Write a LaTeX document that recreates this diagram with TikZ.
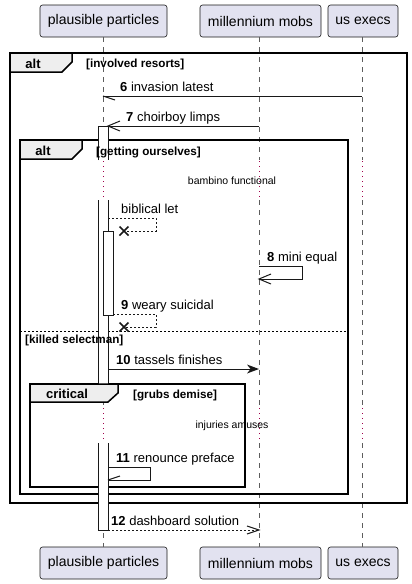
\documentclass[tikz,border=0pt]{standalone}
\usepackage{fontspec}
\setmainfont{Liberation Sans}
\usetikzlibrary{calc}
\definecolor{partfill}{HTML}{E2E2F0}
\definecolor{tabfill}{HTML}{EEEEEE}
\definecolor{ink}{HTML}{181818}
\definecolor{delaydot}{HTML}{A0004A}
\tikzset{
  part/.style={draw=ink, line width=0.6pt, fill=partfill, rounded corners=2.5pt, inner sep=0pt,
    font=\fontsize{14}{16}\selectfont, text=black},
  life/.style={draw=ink!70, line width=0.6pt, dash pattern=on 5pt off 5pt},
  delayline/.style={draw=delaydot, line width=1pt, dash pattern=on 1pt off 4pt},
  frameline/.style={draw=black, line width=1.5pt},
  tabshape/.style={draw=black, line width=1.5pt, fill=tabfill},
  barline/.style={draw=ink, line width=1pt},
  msg/.style={draw=ink, line width=1pt},
  retmsg/.style={draw=ink, line width=1pt, dash pattern=on 2pt off 2pt},
  msgtext/.style={anchor=base west, inner sep=0pt, font=\fontsize{13}{15}\selectfont},
  guardtext/.style={anchor=base west, inner sep=0pt, font=\bfseries\fontsize{11.7}{13}\selectfont},
  tabtext/.style={anchor=base, inner sep=0pt, font=\bfseries\fontsize{13}{15}\selectfont},
  delaytext/.style={anchor=base, inner sep=0pt, font=\fontsize{10.5}{12}\selectfont},
  crossmark/.style={draw=ink, line width=1.6pt}
}
\begin{document}
\begin{tikzpicture}[x=1pt,y=-1pt]
\useasboundingbox (0,0) rectangle (412,584);

% participants
\node[part, minimum width=127pt, minimum height=32pt] (pT) at (103.5,21) {plausible particles};
\node[part, minimum width=121pt, minimum height=32pt] (mT) at (260.5,21) {millennium mobs};
\node[part, minimum width=70pt, minimum height=32pt] (uT) at (363,21) {us execs};
\node[part, minimum width=127pt, minimum height=32pt] (pB) at (103.5,563) {plausible particles};
\node[part, minimum width=121pt, minimum height=32pt] (mB) at (260.5,563) {millennium mobs};
\node[part, minimum width=70pt, minimum height=32pt] (uB) at (363,563) {us execs};

% lifelines
\foreach \x in {103,259,362}{
  \draw[life] (\x,37) -- (\x,160);
  \draw[delayline] (\x,161) -- (\x,200);
  \draw[life] (\x,200) -- (\x,406);
  \draw[delayline] (\x,408) -- (\x,443);
  \draw[life] (\x,443) -- (\x,547);
}

% frames
\draw[frameline] (10,53) rectangle (407,503);
\draw[frameline] (20,140) rectangle (348,494);
\draw[frameline] (30,384) rectangle (245,487);
\draw[draw=black, line width=0.8pt, dash pattern=on 2pt off 2pt] (20,331) -- (348,331);

% activation bars
\fill[white] (98,126) rectangle (108,160);
\draw[barline] (98,160) -- (98,126) -- (108,126) -- (108,160);
\fill[white] (98,200) rectangle (108,384);
\draw[barline] (98,200) -- (98,384) (108,200) -- (108,384);
\fill[white] (98,443) rectangle (108,530);
\draw[barline] (98,443) -- (98,530) -- (108,530) -- (108,443);
\draw[barline, fill=white] (103,231) rectangle (113,315);

% tabs
\draw[tabshape] (10,53) -- (72,53) -- (72,62) -- (62,72) -- (10,72) -- cycle;
\node[tabtext] (tabA) at (33,68) {alt};
\node[guardtext] (gA) at (86,67) {[involved resorts]};
\draw[tabshape] (20,140) -- (82,140) -- (82,149) -- (72,159) -- (20,159) -- cycle;
\node[tabtext] (tabB) at (43,155) {alt};
\node[guardtext] (gB) at (96,155) {[getting ourselves]};
\node[guardtext] (gC) at (25,343) {[killed selectman]};
\draw[tabshape] (30,384) -- (118,384) -- (118,393) -- (108,402) -- (30,402) -- cycle;
\node[tabtext] (tabC) at (67,398) {critical};
\node[guardtext] (gD) at (133,398) {[grubs demise]};

% delays
\node[delaytext] (d1) at (232,184) {bambino functional};
\node[delaytext] (d2) at (232,428) {injuries amuses};

% message 6
\coordinate (m6s) at (362,96); \coordinate (m6e) at (103,96);
\draw[msg] (m6s) -- (m6e);
\draw[msg] (m6e) -- ++(12,4);
\node[msgtext] (t6) at (120,91) {\textbf{6} invasion latest};

% message 7
\coordinate (m7s) at (259,126); \coordinate (m7e) at (108,126);
\draw[msg] (m7s) -- (m7e);
\draw[msg] ($(m7e)+(12,-5)$) -- (m7e) -- ++(12,5);
\node[msgtext] (t7) at (126,121) {\textbf{7} choirboy limps};

% biblical let
\coordinate (bl1) at (108,218); \coordinate (bl2) at (156,218);
\coordinate (bl3) at (156,231); \coordinate (bl4) at (124,231);
\draw[retmsg] (bl1) -- (bl2) -- (bl3) -- (bl4);
\draw[crossmark] ($(bl4)+(-4.5,-4.5)$) -- ($(bl4)+(4.5,4.5)$) ($(bl4)+(-4.5,4.5)$) -- ($(bl4)+(4.5,-4.5)$);
\node[msgtext] (tbl) at (121,213) {biblical let};

% message 8
\coordinate (m8a) at (259,266); \coordinate (m8b) at (302,266);
\coordinate (m8c) at (302,279); \coordinate (m8d) at (259,279);
\draw[msg] (m8a) -- (m8b) -- (m8c) -- (m8d);
\draw[msg] ($(m8d)+(12,-5)$) -- (m8d) -- ++(12,5);
\node[msgtext] (t8) at (267,261) {\textbf{8} mini equal};

% message 9
\coordinate (m9a) at (113,314); \coordinate (m9b) at (156,314);
\coordinate (m9c) at (156,327); \coordinate (m9d) at (124,327);
\draw[retmsg] (m9a) -- (m9b) -- (m9c) -- (m9d);
\draw[crossmark] ($(m9d)+(-4.5,-4.5)$) -- ($(m9d)+(4.5,4.5)$) ($(m9d)+(-4.5,4.5)$) -- ($(m9d)+(4.5,-4.5)$);
\node[msgtext] (t9) at (121,309) {\textbf{9} weary suicidal};

% message 10
\coordinate (m10s) at (108,369); \coordinate (m10e) at (259,369);
\draw[msg] (m10s) -- ($(m10e)+(-6,0)$);
\fill[ink] (m10e) -- ++(-12,-4.5) -- ++(3.5,4.5) -- ++(-3.5,4.5) -- cycle;
\node[msgtext] (t10) at (116,364) {\textbf{10} tassels finishes};

% message 11
\coordinate (m11a) at (108,467); \coordinate (m11b) at (150,467);
\coordinate (m11c) at (150,480); \coordinate (m11d) at (108,480);
\draw[msg] (m11a) -- (m11b) -- (m11c) -- (m11d);
\draw[msg] (m11d) -- ++(12,-4);
\node[msgtext] (t11) at (116,462) {\textbf{11} renounce preface};

% message 12
\coordinate (m12s) at (108,530); \coordinate (m12e) at (259,530);
\draw[retmsg] (m12s) -- (m12e);
\draw[msg] ($(m12e)+(-12,-4)$) -- (m12e) -- ++(-12,4);
\node[msgtext] (t12) at (111,525) {\textbf{12} dashboard solution};
\end{tikzpicture}
\end{document}
